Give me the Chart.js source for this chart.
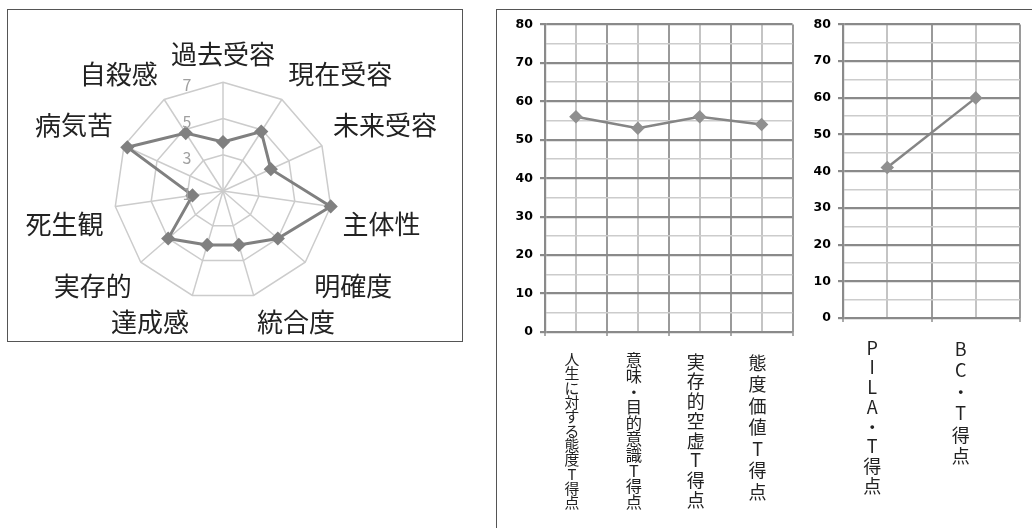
<!DOCTYPE html>
<html>
<head>
<meta charset="utf-8">
<script src="https://cdn.jsdelivr.net/npm/chart.js@4.4.1/dist/chart.umd.min.js"></script>
<style>
  body { margin: 0; background: #fff; width: 1032px; height: 528px; overflow: hidden; position: relative; }
  #radarBox { position: absolute; left: 7px; top: 9px; width: 456px; height: 333px; border: 1px solid #555; box-sizing: border-box; }
  #rightBox { position: absolute; left: 496px; top: 9px; width: 600px; height: 600px; border-left: 1px solid #555; border-top: 1px solid #555; }
  canvas { position: absolute; }
</style>
</head>
<body>
<div id="radarBox"></div>
<div id="rightBox"></div>
<canvas id="radarChart" width="454" height="331" style="left:8px;top:10px"></canvas>
<canvas id="pilChart" width="303" height="518" style="left:497px;top:10px"></canvas>
<canvas id="totalChart" width="232" height="518" style="left:800px;top:10px"></canvas>
<script>
const radarLabels = ['過去受容', '現在受容', '未来受容', '主体性', '明確度', '統合度', '達成感', '実存的', '死生観', '病気苦', '自殺感'];
const radarValues = [3.7, 4.9, 3.9, 7, 5, 4.1, 4.1, 5, 2.7, 6.8, 4.8];
const radarTicks = [1, 3, 5, 7];

const pilNames = ['人生に対する態度T得点', '意味・目的意識T得点', '実存的空虚T得点', '態度価値T得点'];
const pilValues = [56, 53, 56, 54];

const totalNames = ['PILA・T得点', 'BC・T得点'];
const totalValues = [41, 60];

const yMin = 0;
const yMax = 80;

const CJK = '"Noto Sans CJK JP", "Noto Sans", sans-serif';

// radar tick labels sit in a column left of the centre, like the original
const radarTickPlugin = {
    id: 'radarTicks',
    afterDraw(chart) {
        const r = chart.scales.r;
        const c = chart.ctx;
        c.save();
        c.fillStyle = '#a0a0a0';
        c.font = '16px ' + CJK;
        c.textAlign = 'center';
        c.textBaseline = 'middle';
        radarTicks.forEach(v => {
            const d = r.getDistanceFromCenterForValue(v);
            c.fillText(String(v), r.xCenter - 36, r.yCenter - d + 3);
        });
        c.restore();
    }
};

function radarChart() {
    new Chart(document.getElementById('radarChart'), {
        type: 'radar',
        data: {
            labels: radarLabels,
            datasets: [{
                data: radarValues,
                borderColor: '#808080',
                backgroundColor: 'transparent',
                borderWidth: 3,
                pointStyle: 'rectRot',
                pointRadius: 5,
                pointBackgroundColor: '#808080',
                pointBorderColor: '#808080'
            }]
        },
        options: {
            responsive: false,
            animation: false,
            plugins: { legend: { display: false }, tooltip: { enabled: false } },
            layout: { padding: { left: 0, right: 7, top: 27, bottom: 0 } },
            scales: {
                r: {
                    min: 1,
                    max: 7,
                    ticks: { stepSize: 2, display: false },
                    grid: { color: '#cccccc', lineWidth: 1.5 },
                    angleLines: { color: '#cccccc', lineWidth: 1.5 },
                    pointLabels: { color: '#222', padding: 12, font: { family: CJK, size: 26 } }
                }
            }
        },
        plugins: [radarTickPlugin]
    });
}

// long labels get squeezed into the same height, short ones keep a normal line
function labelFont(ctx) {
    const lab = ctx.tick && ctx.tick.label;
    const n = Array.isArray(lab) ? lab.length : 1;
    const line = Math.min(21.5, 158 / n);
    const size = Math.min(18, line + 0.5);
    return { family: CJK, size: size, lineHeight: line / size };
}

function lineChart(id, names, values, yWidth, xHeight, labelShift, padRight) {
    new Chart(document.getElementById(id), {
        type: 'line',
        data: {
            labels: names.map(s => Array.from(s)),
            datasets: [{
                data: values,
                borderColor: '#858585',
                borderWidth: 2.5,
                pointStyle: 'rectRot',
                pointRadius: 5,
                pointBackgroundColor: '#909090',
                pointBorderColor: '#909090',
                tension: 0
            }]
        },
        options: {
            responsive: false,
            animation: false,
            plugins: { legend: { display: false }, tooltip: { enabled: false } },
            layout: { padding: { top: 13, right: padRight, left: 0, bottom: 0 } },
            scales: {
                x: {
                    offset: true,
                    grid: { offset: true, color: '#9a9a9a', lineWidth: 2, tickLength: 4, tickColor: '#aaa' },
                    border: { display: false },
                    ticks: { color: '#222', autoSkip: false, maxRotation: 0, padding: 16, labelOffset: labelShift, font: labelFont },
                    afterFit: s => { s.height = xHeight; }
                },
                x2: {
                    type: 'category',
                    position: 'top',
                    offset: true,
                    grid: { offset: false, color: '#c4c4c4', lineWidth: 2, drawTicks: false },
                    border: { display: false },
                    ticks: { display: false },
                    afterFit: s => { s.height = 0; }
                },
                y: {
                    min: yMin,
                    max: yMax,
                    ticks: {
                        stepSize: 5,
                        autoSkip: false,
                        padding: 7,
                        color: '#000',
                        font: { family: '"DejaVu Sans"', size: 12.5, weight: 'bold' },
                        callback: v => (v % 10 === 0 ? v : '')
                    },
                    grid: {
                        tickLength: 5,
                        color: c => (c.tick.value % 10 === 0 ? '#8a8a8a' : '#cccccc'),
                        lineWidth: c => (c.tick.value % 10 === 0 ? 2.2 : 1.5),
                        tickColor: c => (c.tick.value % 10 === 0 ? '#8a8a8a' : 'transparent')
                    },
                    border: { color: '#8a8a8a', width: 2.2 },
                    afterFit: s => { s.width = yWidth; }
                }
            }
        }
    });
}

radarChart();
lineChart('pilChart', pilNames, pilValues, 48, 196, -4, 5);
lineChart('totalChart', totalNames, totalValues, 43, 210, -15, 12);
</script>
</body>
</html>
